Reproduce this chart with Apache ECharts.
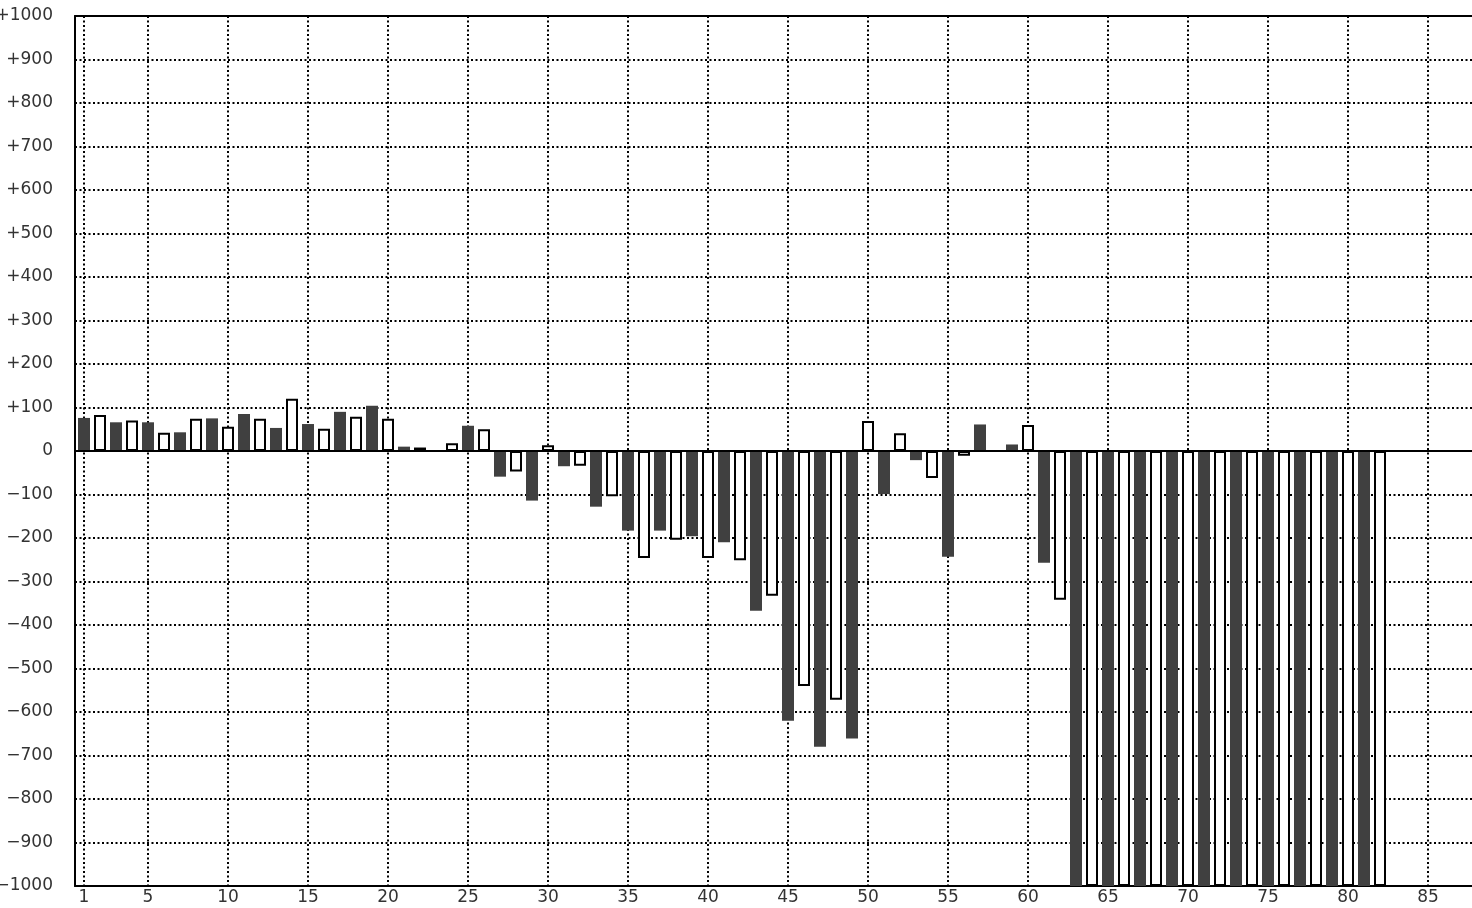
<!DOCTYPE html>
<html>
<head>
<meta charset="utf-8">
<script src="https://cdn.jsdelivr.net/npm/echarts@6/dist/echarts.min.js"></script>
<style>
  html, body { margin: 0; padding: 0; background: #fff; }
  #chart { width: 1472px; height: 908px; }
</style>
</head>
<body>
<div id="chart"></div>
<script>
// Bar positions (category numbers along the x axis)
const positions = [1,2,3,4,5,6,7,8,9,10,11,12,13,14,15,16,17,18,19,20,
  21,22,23,24,25,26,27,28,29,30,31,32,33,34,35,36,37,38,39,40,
  41,42,43,44,45,46,47,48,49,50,51,52,53,54,55,56,57,58,59,60,
  61,62,63,64,65,66,67,68,69,70,71,72,73,74,75,76,77,78,79,80,81,82];

// Bar values
const values = [76,83,66,70,66,42,43,74,75,56,85,74,53,120,62,51,90,79,104,74,
  10,8,2,18,58,50,-59,-47,-114,13,-35,-34,-128,-104,-183,-246,-183,-204,-196,-246,
  -210,-251,-367,-333,-620,-540,-680,-572,-661,69,-99,41,-21,-62,-243,-11,61,null,15,60,
  -257,-342,-1000,-1000,-1000,-1000,-1000,-1000,-1000,-1000,-1000,-1000,-1000,-1000,-1000,-1000,-1000,-1000,-1000,-1000,
  -1000,-1000];

// Tick labels
const xTicks = [1,5,10,15,20,25,30,35,40,45,50,55,60,65,70,75,80,85];
const yMin = -1000, yMax = 1000, yStep = 100;

const chart = echarts.init(document.getElementById('chart'), null, { renderer: 'canvas' });

const dark = '#404040';
const dataItems = values.map((v, i) => {
  const isDark = (positions[i] % 2) === 1;
  return {
    value: [positions[i], v],
    itemStyle: isDark
      ? { color: dark, borderWidth: 0 }
      : { color: '#ffffff', borderColor: '#000000', borderWidth: 2 }
  };
});

const gridLine = { color: '#000', width: 2, type: [2, 2.5] };
const labelFont = { fontFamily: 'DejaVu Sans', fontSize: 17, color: '#333' };

chart.setOption({
  animation: false,
  backgroundColor: '#ffffff',
  grid: { left: 75, right: 0, top: 16, bottom: 22, containLabel: false, outerBoundsMode: 'none' },
  xAxis: [
    {
      type: 'value',
      position: 'bottom',
      min: 0.4375,
      max: 87.75,
      axisLine: { show: true, onZero: false, lineStyle: { color: '#000', width: 2 } },
      axisTick: { show: false, customValues: xTicks },
      axisLabel: Object.assign({ show: true, margin: 3, customValues: xTicks }, labelFont),
      splitLine: { show: true, lineStyle: gridLine }
    },
    {
      type: 'value',
      position: 'top',
      min: 0.4375,
      max: 87.75,
      axisLine: { show: true, onZero: false, lineStyle: { color: '#000', width: 2 } },
      axisTick: { show: false },
      axisLabel: { show: false },
      splitLine: { show: false }
    }
  ],
  yAxis: {
    type: 'value',
    min: yMin,
    max: yMax,
    interval: yStep,
    axisLine: { show: true, onZero: false, lineStyle: { color: '#000', width: 2 } },
    axisTick: { show: false },
    axisLabel: Object.assign({
      margin: 22,
      formatter: function (v) {
        if (v > 0) return '+' + v;
        if (v < 0) return '\u2212' + Math.abs(v);
        return '0';
      }
    }, labelFont),
    splitLine: { show: true, lineStyle: gridLine }
  },
  series: [
    {
      type: 'bar',
      xAxisIndex: 0,
      barWidth: 12,
      data: dataItems,
      markLine: {
        silent: true,
        symbol: 'none',
        label: { show: false },
        lineStyle: { color: '#000', type: 'solid', width: 2 },
        data: [{ yAxis: 0 }]
      }
    }
  ]
});
</script>
</body>
</html>
